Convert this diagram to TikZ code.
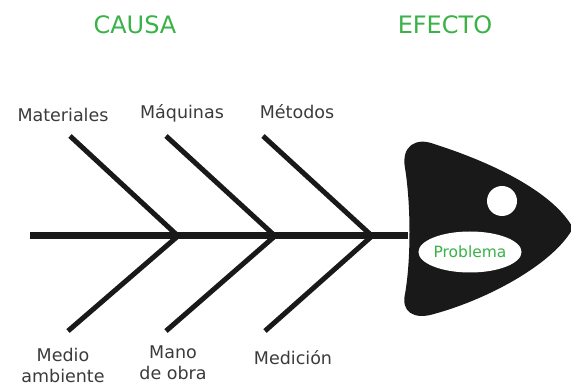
\documentclass[tikz,border=0pt]{standalone}
\usepackage{fontspec}
\setmainfont{DejaVu Sans}
\usetikzlibrary{shapes.geometric}
\definecolor{fishgreen}{RGB}{58,178,72}
\definecolor{ink}{RGB}{25,25,25}
\tikzset{
  bone/.style={line width=5pt, ink},
  spine/.style={line width=7pt, ink},
  lbl/.style={font=\fontsize{17.5}{19}\selectfont, text=ink!85, align=center, inner sep=0pt},
  ttl/.style={font=\fontsize{24}{26}\selectfont, text=fishgreen, inner sep=0pt}
}
\begin{document}
\begin{tikzpicture}[x=1pt,y=-1pt]
\useasboundingbox (0,0) rectangle (571,387);
% titles
\node[ttl] (causa) at (135,25) {CAUSA};
\node[ttl] (efecto) at (445,25) {EFECTO};
% head
\fill[ink] (405,168) .. controls (401,146) and (416,137) .. (434,144)
  .. controls (500,165) and (555,195) .. (573,228)
  .. controls (555,262) and (492,298) .. (434,314)
  .. controls (414,320) and (401,312) .. (405,294)
  .. controls (411,260) and (411,205) .. (405,168) -- cycle;
\coordinate (head) at (408,236);
\node[circle, fill=white, minimum size=30pt, inner sep=0pt] (eye) at (502,201) {};
\node[ellipse, fill=white, minimum width=98pt, minimum height=41pt, inner sep=0pt,
      font=\fontsize{15.5}{17}\selectfont, text=fishgreen] (prob) at (470,252) {Problema};
% spine
\coordinate (tail) at (30,236);
\draw[spine] (tail) -- (head);
% junctions
\coordinate (j1) at (178,236);
\coordinate (j2) at (275,236);
\coordinate (j3) at (372,236);
\coordinate (u1) at (70,136);
\coordinate (u2) at (166,136);
\coordinate (u3) at (263,136);
\coordinate (d1) at (68,331);
\coordinate (d2) at (166,331);
\coordinate (d3) at (265,331);
\draw[bone] (u1) -- (j1);
\draw[bone] (u2) -- (j2);
\draw[bone] (u3) -- (j3);
\draw[bone] (d1) -- (j1);
\draw[bone] (d2) -- (j2);
\draw[bone] (d3) -- (j3);
% labels
\node[lbl] (mat) at (63,115) {Materiales};
\node[lbl] (maq) at (182,113) {Máquinas};
\node[lbl] (met) at (297,112) {Métodos};
\node[lbl] (med) at (63,365) {Medio\\[2pt]ambiente};
\node[lbl] (man) at (173,363) {Mano\\[2pt]de obra};
\node[lbl] (medi) at (293,358) {Medición};
\end{tikzpicture}
\end{document}
